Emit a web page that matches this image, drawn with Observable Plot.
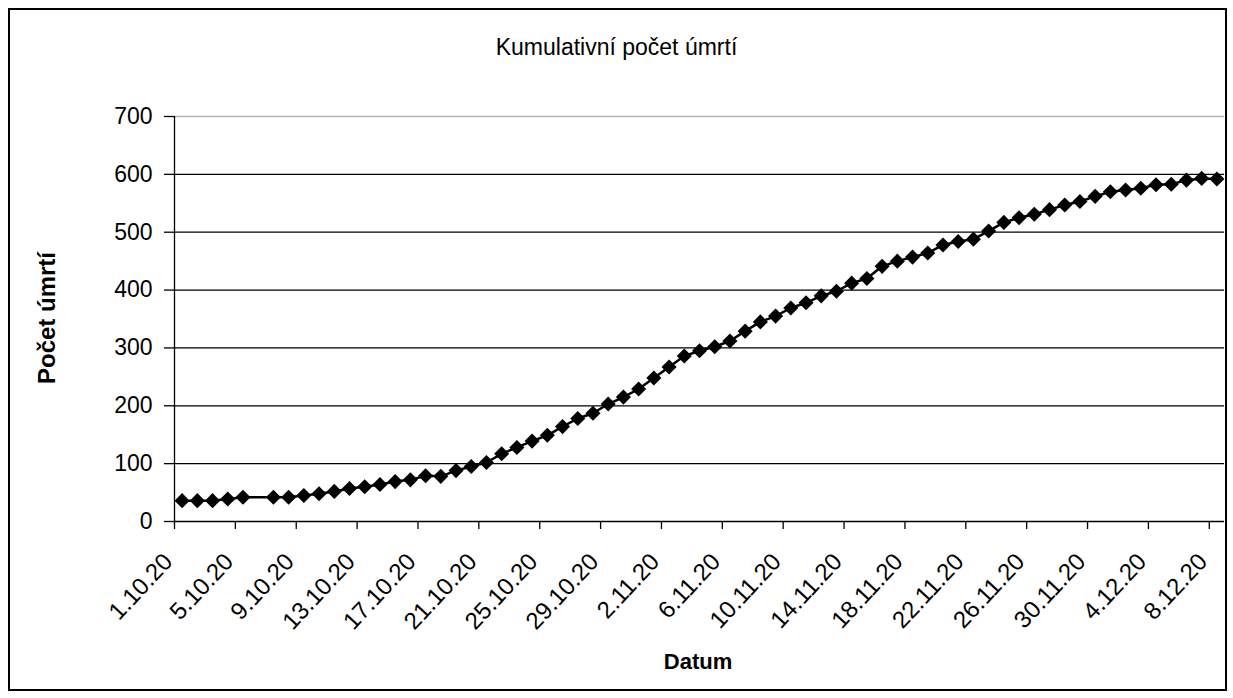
<!DOCTYPE html>
<html>
<head>
<meta charset="utf-8">
<script src="https://cdn.jsdelivr.net/npm/d3@7"></script>
<script src="https://cdn.jsdelivr.net/npm/@observablehq/plot@0.6"></script>
<style>
  html, body { margin: 0; padding: 0; background: #fff; }
  #wrap { position: relative; width: 1233px; height: 698px; font-family: "Liberation Sans", Arial, sans-serif; color: #000; }
  #frame { position: absolute; left: 8px; top: 8px; width: 1215px; height: 679px; border: 2px solid #000; }
  #title { position: absolute; left: 0; top: 34px; width: 1233px; text-align: center; font-size: 23px; line-height: 26px; }
  #ylab { position: absolute; left: 47px; top: 318px; transform: translate(-50%, -50%) rotate(-90deg); font-size: 24px; font-weight: bold; white-space: nowrap; }
  #xlab { position: absolute; left: 698px; top: 662px; transform: translate(-50%, -50%); font-size: 22px; font-weight: bold; }
  #chart { position: absolute; left: 0; top: 0; }
</style>
</head>
<body>
<div id="wrap">
  <div id="frame"></div>
  <div id="chart"></div>
  <div id="title">Kumulativní počet úmrtí</div>
  <div id="ylab">Počet úmrtí</div>
  <div id="xlab">Datum</div>
</div>
<script>
const dates = [
  "1.10.20","2.10.20","3.10.20","4.10.20","5.10.20","6.10.20","7.10.20","8.10.20",
  "9.10.20","10.10.20","11.10.20","12.10.20","13.10.20","14.10.20","15.10.20","16.10.20",
  "17.10.20","18.10.20","19.10.20","20.10.20","21.10.20","22.10.20","23.10.20","24.10.20",
  "25.10.20","26.10.20","27.10.20","28.10.20","29.10.20","30.10.20","31.10.20","1.11.20",
  "2.11.20","3.11.20","4.11.20","5.11.20","6.11.20","7.11.20","8.11.20","9.11.20",
  "10.11.20","11.11.20","12.11.20","13.11.20","14.11.20","15.11.20","16.11.20","17.11.20",
  "18.11.20","19.11.20","20.11.20","21.11.20","22.11.20","23.11.20","24.11.20","25.11.20",
  "26.11.20","27.11.20","28.11.20","29.11.20","30.11.20","1.12.20","2.12.20","3.12.20",
  "4.12.20","5.12.20","6.12.20","7.12.20","8.12.20"
];
const deaths = [
  36, 36, 36, 39, 42, null, 42, 42,
  45, 48, 52, 57, 60, 64, 69, 72,
  79, 78, 88, 95, 102, 117, 128, 139,
  149, 164, 178, 187, 203, 215, 229, 248,
  267, 286, 295, 302, 312, 329, 345, 355,
  369, 378, 390, 398, 412, 420, 441, 450,
  457, 464, 478, 484, 488, 502, 517, 525,
  531, 539, 547, 553, 562, 570, 573, 576,
  582, 583, 590, 593, 592
];
const yTicks = [0, 100, 200, 300, 400, 500, 600, 700];
const labelEvery = 4;

const rows = dates.map((d, i) => ({pos: i + 0.5, date: d, value: deaths[i]}));
const valid = rows.filter(r => r.value != null);
const labelPos = rows.filter((r, i) => i % labelEvery === 0).map(r => r.pos);
const boundaries = rows.filter((r, i) => i % labelEvery === 0).map(r => r.pos - 0.5);
const labelOf = new Map(rows.map(r => [r.pos, r.date]));

const chart = Plot.plot({
  width: 1233,
  height: 698,
  marginLeft: 174,
  marginRight: 9,
  marginTop: 116,
  marginBottom: 177,
  style: {fontFamily: "'Liberation Sans', Arial, sans-serif", fontSize: "23px", color: "#000", background: "transparent"},
  x: {type: "linear", domain: [0, dates.length]},
  y: {domain: [0, 700]},
  marks: [
    Plot.gridY({ticks: yTicks.filter(t => t > 0 && t < 700), stroke: "#000", strokeOpacity: 1, strokeWidth: 1.3}),
    Plot.gridY({ticks: [700], stroke: "#b4b4b4", strokeOpacity: 1, strokeWidth: 1.3}),
    Plot.axisY({ticks: yTicks, tickSize: 10, tickPadding: 12, label: null, fontSize: 23, strokeWidth: 1.3}),
    Plot.axisX({ticks: boundaries, tickSize: 8, tickFormat: () => "", label: null, strokeWidth: 1.3}),
    Plot.axisX({ticks: labelPos, tickSize: 0, tickPadding: 36, dx: -14, tickRotate: -47, tickFormat: p => labelOf.get(p), label: null, fontSize: 24}),
    Plot.ruleX([0], {stroke: "#000", strokeWidth: 1.3}),
    Plot.ruleY([0], {stroke: "#000", strokeWidth: 1.3}),
    Plot.line(valid, {x: "pos", y: "value", stroke: "#000", strokeWidth: 2.5}),
    Plot.dot(valid, {x: "pos", y: "value", symbol: "diamond2", r: 6.8, fill: "#000", stroke: "none"})
  ]
});
document.getElementById("chart").appendChild(chart);
</script>
</body>
</html>
